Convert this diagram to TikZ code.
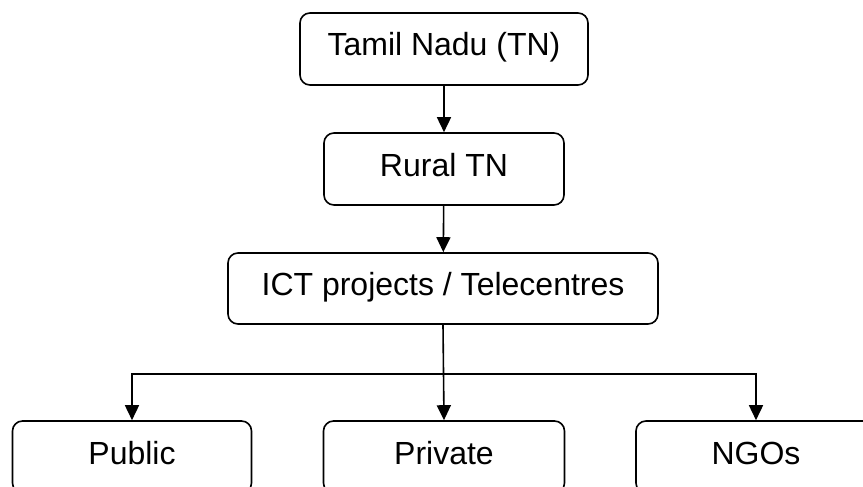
\documentclass[tikz,border=0pt]{standalone}
\usepackage{fontspec}
\setmainfont{Liberation Sans}
\usepackage{tikz}
\usetikzlibrary{calc,arrows.meta}

\tikzset{
  level/.style={draw, rounded corners=10pt, line width=1.6pt, minimum height=72pt,
    inner sep=0pt, text height=23pt, text depth=9pt,
    font=\fontsize{32}{38}\selectfont},
  link/.style={line width=1.6pt, -{Triangle[length=15pt,width=14pt]}}
}

\begin{document}
\begin{tikzpicture}[x=1pt,y=-1pt]
\useasboundingbox (0,0) rectangle (863,487);
\node[level, minimum width=288pt] (tn)   at (444,49)    {Tamil Nadu (TN)};
\node[level, minimum width=240pt] (rural) at (444,169)  {Rural TN};
\node[level, minimum width=430pt, minimum height=71pt] (ict) at (443,288.5) {ICT projects / Telecentres};
\node[level, minimum width=239pt] (public)  at (132,457) {Public};
\node[level, minimum width=241pt] (private) at (444,457) {Private};
\node[level, minimum width=240pt] (ngo)     at (756,457) {NGOs};
\coordinate (split) at ($(ict.south)+(0,49)$);
\draw[link] (tn) -- (rural);
\draw[link] (rural) -- (ict);
\draw[link] (ict.south) -- (private.north);
\draw[link] (split) -| (public.north);
\draw[link] (split) -| (ngo.north);
\end{tikzpicture}
\end{document}
